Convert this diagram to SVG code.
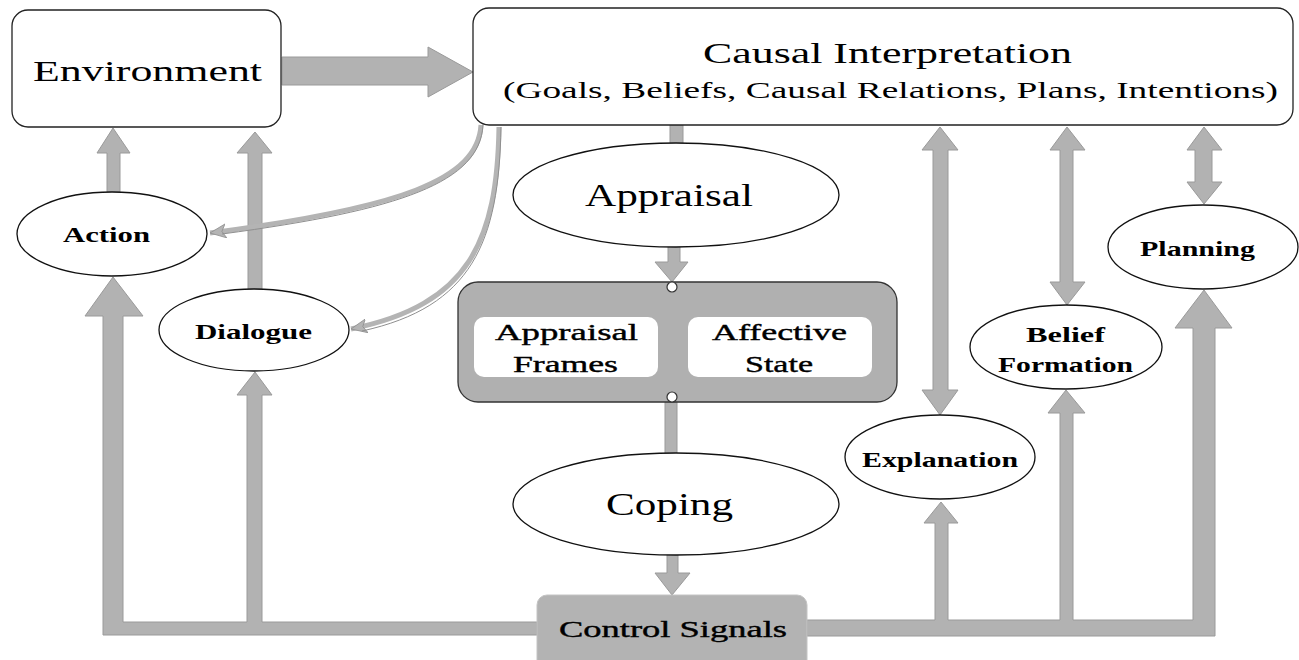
<svg xmlns="http://www.w3.org/2000/svg" width="1299" height="660" viewBox="0 0 1299 660">
<style>
.box{fill:#fff;stroke:#222;stroke-width:1.3}
.ell{fill:#fff;stroke:#111;stroke-width:1.3}
.arr{fill:#b2b2b2;stroke:#9a9a9a;stroke-width:1}
.t{font-family:"Liberation Serif","Times New Roman",serif;fill:#000}
.b{font-weight:bold}
.semi{stroke:#000;stroke-width:0.4}
.curve{fill:none;stroke:#b4b4b4;stroke-width:5}
.curve2{fill:none;stroke:#8f8f8f;stroke-width:1}
</style>
<defs>
<marker id="head" markerUnits="userSpaceOnUse" markerWidth="20" markerHeight="16" refX="16" refY="7" orient="auto">
<path d="M0,0 L16,7 L0,14 L4,7 Z" fill="#b4b4b4" stroke="#8f8f8f" stroke-width="0.8"/>
</marker>
</defs>
<rect width="1299" height="660" fill="#fff"/>

<g id="connectors">
<polygon class="arr" points="282,57 428,57 428,47 473,72 428,97 428,85 282,85"/>
<polygon class="arr" points="107,192 107,153 97,153 113,128 130,153 120,153 120,192"/>
<polygon class="arr" points="248,289 248,153 237,153 255,132 272,153 262,153 262,289"/>
<polygon class="arr" points="537,622 262,622 262,395 272,395 255,372 237,395 247,395 247,622 123,622 123,316 143,316 113,277 85,316 103,316 103,635 537,635"/>
<polygon class="arr" points="807,620 935,620 935,523 924,523 941,502 958,523 948,523 948,620 1060,620 1060,413 1048,413 1066,390 1085,413 1073,413 1073,620 1193,620 1193,328 1175,328 1204,290 1232,328 1215,328 1215,636 807,636"/>
<polygon class="arr" points="940,127 958,150 948,150 948,390 958,390 940,415 922,390 933,390 933,150 922,150"/>
<polygon class="arr" points="1067,127 1085,150 1073,150 1073,282 1085,282 1067,305 1050,282 1060,282 1060,150 1050,150"/>
<polygon class="arr" points="1204,127 1222,150 1212,150 1212,182 1222,182 1204,204 1187,182 1195,182 1195,150 1187,150"/>
<rect class="arr" x="670" y="125" width="13" height="19"/>
<polygon class="arr" points="668,246 680,246 680,262 688,262 672,282 655,262 668,262"/>
<rect class="arr" x="665" y="402" width="12" height="52"/>
<polygon class="arr" points="667,554 678,554 678,573 690,573 672,595 655,573 667,573"/>
<path class="curve" d="M481,125 C478,180 400,208 210,233" marker-end="url(#head)"/>
<path class="curve2" d="M483,125 C480,182 402,210 222,234"/>
<path class="curve" d="M499,127 C497,240 470,305 351,329" marker-end="url(#head)"/>
<path class="curve2" d="M501,127 C499,242 472,307 362,331"/>
</g>

<g id="environment">
<rect class="box" x="12" y="10" width="269" height="117" rx="16"/>
<text class="t" x="33" y="81" font-size="29" textLength="229" lengthAdjust="spacingAndGlyphs">Environment</text>
</g>

<g id="causal">
<rect class="box" x="473" y="8" width="820" height="117" rx="16"/>
<text class="t" x="703" y="63" font-size="30" textLength="369" lengthAdjust="spacingAndGlyphs">Causal Interpretation</text>
<text class="t" x="503" y="98" font-size="23" textLength="775" lengthAdjust="spacingAndGlyphs">(Goals, Beliefs, Causal Relations, Plans, Intentions)</text>
</g>

<g id="action">
<ellipse class="ell" cx="112" cy="234" rx="95" ry="42"/>
<text class="t b" x="63" y="242" font-size="22" textLength="87" lengthAdjust="spacingAndGlyphs">Action</text>
</g>

<g id="dialogue">
<ellipse class="ell" cx="254" cy="330" rx="95" ry="41"/>
<text class="t b" x="195" y="339" font-size="22" textLength="117" lengthAdjust="spacingAndGlyphs">Dialogue</text>
</g>

<g id="appraisal">
<ellipse class="ell" cx="676" cy="195" rx="163" ry="52"/>
<text class="t" x="585" y="206" font-size="31" textLength="168" lengthAdjust="spacingAndGlyphs">Appraisal</text>
</g>

<g id="state">
<rect x="458" y="282" width="439" height="120" rx="20" fill="#b0b0b0" stroke="#333" stroke-width="1.3"/>
<rect x="474" y="317" width="184" height="60" rx="10" fill="#fff"/>
<rect x="688" y="317" width="184" height="60" rx="10" fill="#fff"/>
<circle cx="672" cy="287" r="5" fill="#fff" stroke="#333" stroke-width="1.2"/>
<circle cx="672" cy="397" r="5" fill="#fff" stroke="#333" stroke-width="1.2"/>
<text class="t semi" x="495" y="340" font-size="24" textLength="143" lengthAdjust="spacingAndGlyphs">Appraisal</text>
<text class="t semi" x="513" y="372" font-size="24" textLength="105" lengthAdjust="spacingAndGlyphs">Frames</text>
<text class="t semi" x="712" y="340" font-size="24" textLength="135" lengthAdjust="spacingAndGlyphs">Affective</text>
<text class="t semi" x="745" y="372" font-size="24" textLength="68" lengthAdjust="spacingAndGlyphs">State</text>
</g>

<g id="coping">
<ellipse class="ell" cx="676" cy="504" rx="163" ry="51"/>
<text class="t" x="606" y="515" font-size="32" textLength="127" lengthAdjust="spacingAndGlyphs">Coping</text>
</g>

<g id="control">
<rect x="537" y="595" width="270" height="80" rx="10" fill="#b3b3b3" stroke="#c4c4c4" stroke-width="1"/>
<text class="t semi" x="559" y="637" font-size="24" textLength="228" lengthAdjust="spacingAndGlyphs">Control Signals</text>
</g>

<g id="explanation">
<ellipse class="ell" cx="940" cy="457" rx="95" ry="42"/>
<text class="t b" x="862" y="467" font-size="22" textLength="156" lengthAdjust="spacingAndGlyphs">Explanation</text>
</g>

<g id="belief">
<ellipse class="ell" cx="1066" cy="347" rx="96" ry="42"/>
<text class="t b" x="1026" y="342" font-size="22" textLength="79" lengthAdjust="spacingAndGlyphs">Belief</text>
<text class="t b" x="998" y="372" font-size="22" textLength="135" lengthAdjust="spacingAndGlyphs">Formation</text>
</g>

<g id="planning">
<ellipse class="ell" cx="1203" cy="247" rx="95" ry="42"/>
<text class="t b" x="1140" y="256" font-size="22" textLength="115" lengthAdjust="spacingAndGlyphs">Planning</text>
</g>
</svg>
